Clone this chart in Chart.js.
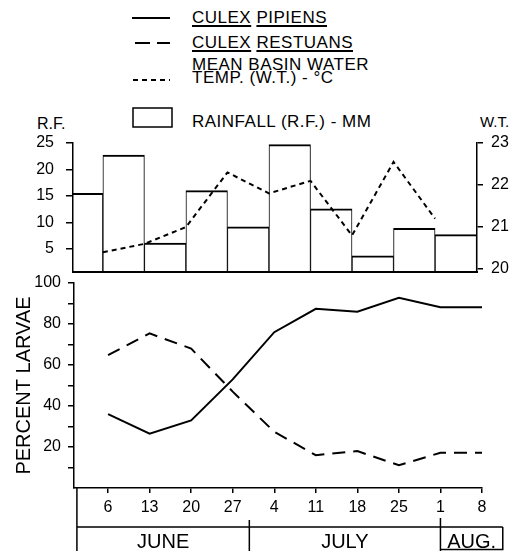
<!DOCTYPE html>
<html>
<head>
<meta charset="utf-8">
<title>Culex larvae, rainfall and basin water temperature</title>
<script src="https://cdn.jsdelivr.net/npm/chart.js@4.4.1/dist/chart.umd.min.js"></script>
<style>
  body { margin: 0; background: #fff; font-family: "Liberation Sans", Arial, Helvetica, sans-serif; color: #000; }
  #page { position: relative; width: 514px; height: 551px; overflow: hidden; }
  canvas { position: absolute; left: 0; }
  svg { position: absolute; left: 0; top: 0; }
  .txt { position: absolute; white-space: nowrap; line-height: 1; }
  .legend { left: 192px; font-size: 17px; letter-spacing: 0.5px; }
  .legend u { text-decoration-thickness: 1.5px; text-underline-offset: 2px; }
</style>
</head>
<body>
<div id="page">
  <svg width="514" height="135">
    <line x1="132" y1="18" x2="170" y2="18" stroke="#000" stroke-width="2"/>
    <line x1="135" y1="43" x2="170" y2="43" stroke="#000" stroke-width="2" stroke-dasharray="15 7"/>
    <line x1="133" y1="80" x2="170" y2="80" stroke="#000" stroke-width="2" stroke-dasharray="5 4"/>
    <rect x="133" y="108" width="39" height="19" fill="#fff" stroke="#000" stroke-width="1.5"/>
  </svg>
  <div class="txt legend" style="top:9px"><u>CULEX</u> <u>PIPIENS</u></div>
  <div class="txt legend" style="top:34px"><u>CULEX</u> <u>RESTUANS</u></div>
  <div class="txt legend" style="top:56px">MEAN BASIN WATER</div>
  <div class="txt legend" style="top:69px">TEMP. (W.T.) - °C</div>
  <div class="txt legend" style="top:113px">RAINFALL (R.F.) - MM</div>
  <div class="txt" style="left:37px;top:116px;font-size:16px">R.F.</div>
  <div class="txt" style="left:480px;top:114px;font-size:15px">W.T.</div>

  <canvas id="bottomChart" width="514" height="281" style="top:270px"></canvas>
  <canvas id="topChart" width="514" height="157" style="top:125px"></canvas>
</div>

<script>
// sampling dates (weekly), June 6 .. Aug 8
const dates = ["6", "13", "20", "27", "4", "11", "18", "25", "1", "8"];
const months = ["JUNE", "JULY", "AUG."];
// month boundaries, in week positions
const monthEdges = [-0.75, 3.4, 8, 9.5];

// rainfall for the week ending on each date (mm)
const rainfall = [15.5, 22.7, 6.1, 16.0, 9.2, 24.7, 12.6, 3.7, 8.9, 7.7];
// mean basin water temperature (deg C), June 6 .. Aug 1
const waterTemp = [20.4, 20.6, 21.0, 22.3, 21.8, 22.1, 20.8, 22.55, 21.2];

// percent of larvae
const pipiens = [36, 26.5, 33, 53, 76, 87.4, 86, 92.8, 88.2, 88.2];
const restuans = [64.8, 75.4, 68, 47, 27.4, 16, 18, 11.1, 17.2, 17.2];

const rfTicks = [5, 10, 15, 20, 25];
const wtTicks = [20, 21, 22, 23];
const pctTicks = [10, 20, 30, 40, 50, 60, 70, 80, 90, 100];

Chart.defaults.font.family = '"Liberation Sans", Arial, Helvetica, sans-serif';
Chart.defaults.font.size = 16;
Chart.defaults.color = "#000";
Chart.defaults.animation = false;

function setTicks(list) {
  return function (scale) {
    scale.ticks = list.map((v) => ({ value: v }));
  };
}

// fixed axis width, and no extra room for the end labels
function fixWidth(w) {
  return function (scale) {
    scale.width = w;
    scale.paddingTop = 0;
    scale.paddingBottom = 0;
  };
}

// ---------- top panel: rainfall bars + water temperature ----------
new Chart(document.getElementById("topChart"), {
  data: {
    datasets: [
      {
        type: "line",
        label: "Water temp",
        data: waterTemp.map((t, i) => ({ x: i, y: t })),
        yAxisID: "yWT",
        borderColor: "#000",
        borderWidth: 2,
        borderDash: [5, 4],
        pointRadius: 0,
        tension: 0,
        order: 0,
      },
      {
        type: "bar",
        label: "Rainfall",
        // each bar covers the week that ends on its date
        data: rainfall.map((r, i) => ({ x: i - 0.5, y: r })),
        yAxisID: "yRF",
        backgroundColor: "#fff",
        borderColor: "#000",
        borderWidth: { top: 2, left: 1, right: 1, bottom: 0 },
        borderSkipped: false,
        barPercentage: 1,
        categoryPercentage: 1,
        clip: { left: 0, top: 5, right: 5, bottom: 0 },
        order: 1,
      },
    ],
  },
  options: {
    responsive: false,
    devicePixelRatio: 1,
    layout: { padding: { top: 18, bottom: 10, left: 0, right: 0 } },
    plugins: { legend: { display: false }, tooltip: { enabled: false } },
    scales: {
      x: {
        type: "linear",
        min: -0.72,
        max: 9.01,
        offset: false,
        afterBuildTicks: setTicks(dates.map((d, i) => i)),
        afterFit: (s) => { s.height = 0; },
        ticks: { display: false },
        grid: { display: false, offset: false },
        border: { display: true, color: "#000", width: 2, z: 1 },
      },
      yRF: {
        type: "linear",
        position: "left",
        min: 0.66,
        max: 25,
        afterBuildTicks: setTicks(rfTicks),
        afterFit: fixWidth(73),
        ticks: { padding: 12 },
        grid: { display: true, drawOnChartArea: false, drawTicks: true, tickLength: 7, color: "#000", lineWidth: 1.5 },
        border: { display: true, color: "#000", width: 1.5, z: 1 },
      },
      yWT: {
        type: "linear",
        position: "right",
        min: 19.93,
        max: 23,
        afterBuildTicks: setTicks(wtTicks),
        afterFit: fixWidth(37),
        ticks: { padding: 8 },
        grid: { display: true, drawOnChartArea: false, drawTicks: true, tickLength: 6, color: "#000", lineWidth: 1.5 },
        border: { display: true, color: "#000", width: 1.5, z: 1 },
      },
    },
  },
});

// ---------- bottom panel: percent larvae ----------
const monthTable = {
  id: "monthTable",
  afterDraw(chart) {
    const ctx = chart.ctx;
    const x = chart.scales.x;
    const area = chart.chartArea;
    const H = chart.height;
    const px = monthEdges.map((v) => x.getPixelForValue(v));
    const rowY = area.bottom + 39;
    ctx.save();
    ctx.strokeStyle = "#000";
    ctx.lineWidth = 1.5;
    ctx.beginPath();
    ctx.moveTo(px[0], area.bottom);
    ctx.lineTo(px[0], H);
    ctx.moveTo(px[0], rowY);
    ctx.lineTo(px[3], rowY);
    ctx.moveTo(px[1], rowY - 7);
    ctx.lineTo(px[1], H);
    ctx.moveTo(px[2], rowY - 9);
    ctx.lineTo(px[2], H);
    ctx.moveTo(px[3], rowY);
    ctx.lineTo(px[3], H - 1.5);
    ctx.lineTo(px[2], H - 1.5);
    ctx.stroke();
    ctx.fillStyle = "#000";
    ctx.font = '20px "Liberation Sans", Arial, Helvetica, sans-serif';
    ctx.textAlign = "center";
    ctx.textBaseline = "alphabetic";
    months.forEach((m, i) => {
      ctx.fillText(m, (px[i] + px[i + 1]) / 2, H - 3);
    });
    ctx.restore();
  },
};

new Chart(document.getElementById("bottomChart"), {
  type: "line",
  data: {
    datasets: [
      {
        label: "Culex pipiens",
        data: pipiens.map((p, i) => ({ x: i, y: p })),
        borderColor: "#000",
        borderWidth: 2,
        pointRadius: 0,
        tension: 0,
      },
      {
        label: "Culex restuans",
        data: restuans.map((p, i) => ({ x: i, y: p })),
        borderColor: "#000",
        borderWidth: 2,
        borderDash: [13, 8],
        pointRadius: 0,
        tension: 0,
      },
    ],
  },
  options: {
    responsive: false,
    devicePixelRatio: 1,
    layout: { padding: { top: 13, bottom: 0, left: 0, right: 32 } },
    plugins: { legend: { display: false }, tooltip: { enabled: false } },
    scales: {
      x: {
        type: "linear",
        min: -0.82,
        max: 9,
        offset: false,
        afterBuildTicks: setTicks(dates.map((d, i) => i)),
        afterFit: (s) => { s.height = 63; },
        ticks: { padding: 5, callback: (v) => dates[v] },
        grid: { display: true, drawOnChartArea: false, drawTicks: true, tickLength: 5, color: "#000", lineWidth: 1.5 },
        border: { display: true, color: "#000", width: 1.5 },
      },
      y: {
        type: "linear",
        min: 0,
        max: 100,
        afterBuildTicks: setTicks(pctTicks),
        afterFit: fixWidth(74),
        ticks: { padding: 7, callback: (v) => (v % 20 === 0 ? String(v) : "") },
        grid: { display: true, drawOnChartArea: false, drawTicks: true, tickLength: 6, color: "#000", lineWidth: 1.5 },
        border: { display: true, color: "#000", width: 1.5 },
        title: { display: true, text: "PERCENT LARVAE", font: { size: 20 }, padding: { top: 12, bottom: 0 } },
      },
    },
  },
  plugins: [monthTable],
});
</script>
</body>
</html>
